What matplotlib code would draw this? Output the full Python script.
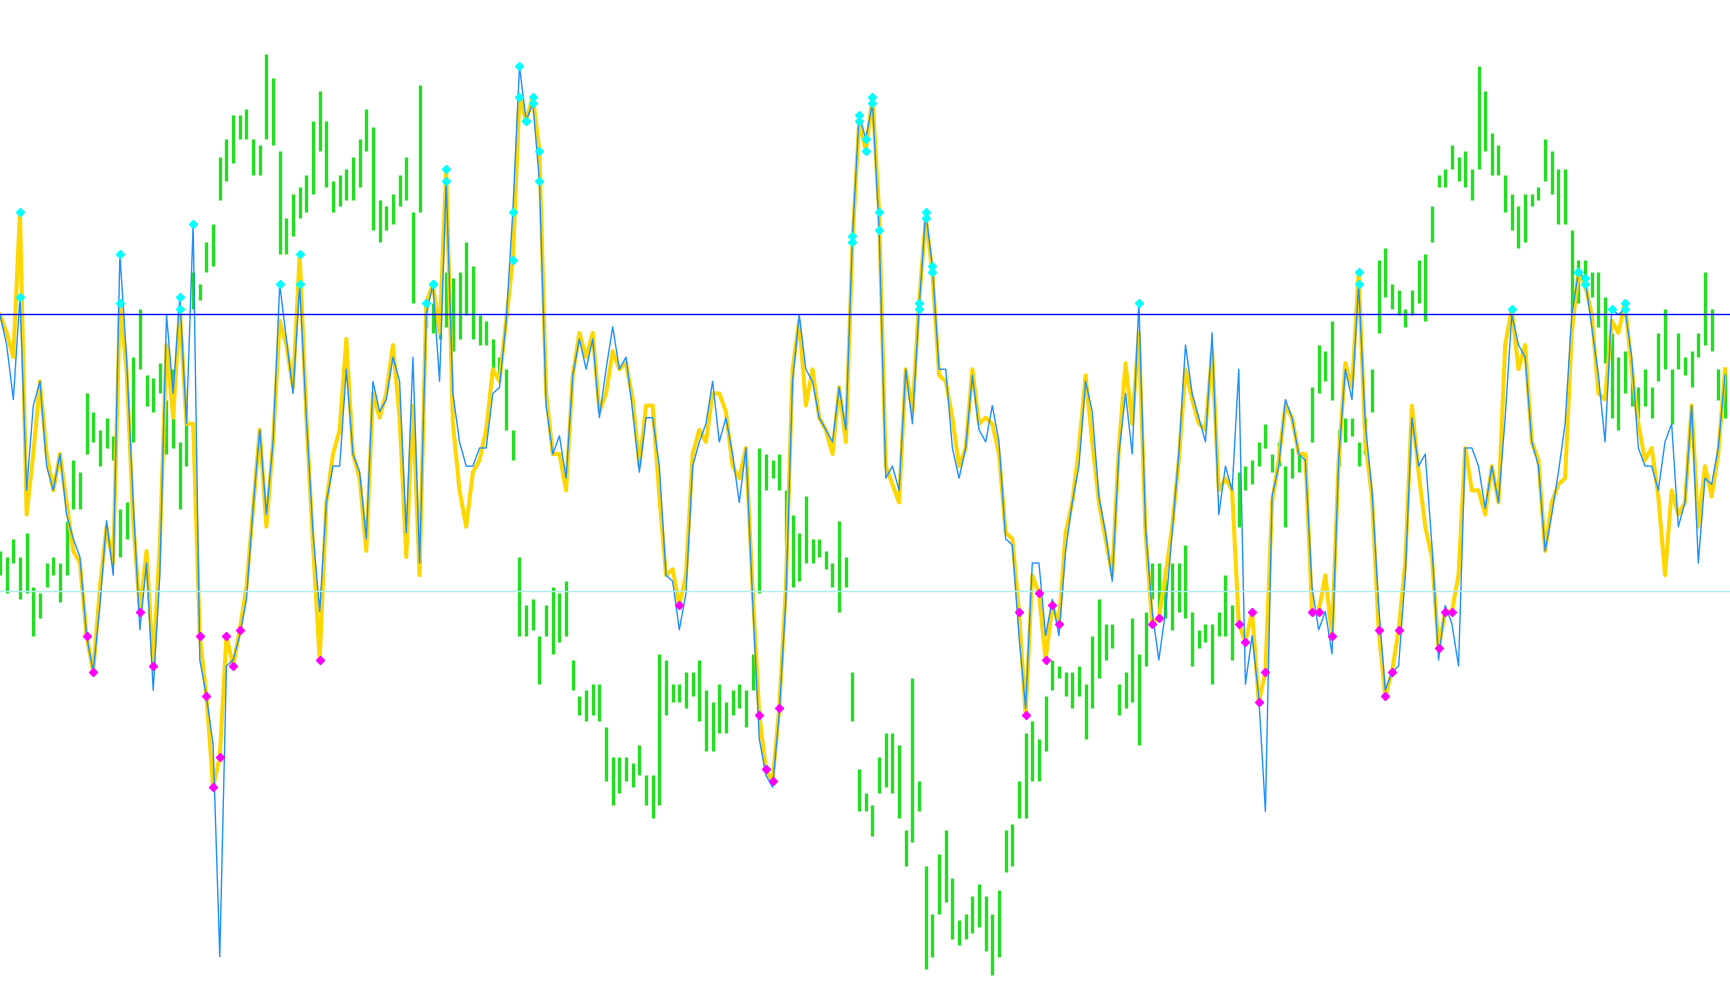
import numpy as np
import matplotlib
matplotlib.use("Agg")
from matplotlib import pyplot as plt

# oscillator, slow (thick gold) line
yellow = [
    1130, 1100, 1060, 1300, 800, 900, 1020, 900, 840, 900,
    820, 740, 720, 600, 540, 680, 780, 720, 1150, 1040,
    790, 640, 740, 550, 750, 1080, 960, 1140, 950, 950,
    600, 500, 350, 400, 600, 550, 610, 680, 810, 940,
    780, 920, 1120, 1080, 1010, 1230, 960, 750, 560, 820,
    900, 940, 1090, 900, 860, 740, 1000, 960, 1000, 1080,
    960, 730, 980, 700, 1150, 1180, 1100, 1370, 950, 840,
    780, 870, 890, 940, 1040, 1020, 1120, 1220, 1490, 1450,
    1490, 1400, 1000, 900, 900, 840, 1030, 1100, 1060, 1100,
    970, 1000, 1070, 1040, 1050, 990, 880, 980, 980, 830,
    700, 710, 650, 700, 900, 940, 920, 1000, 1000, 970,
    880, 860, 910, 680, 470, 380, 360, 480, 680, 1040,
    1120, 980, 1040, 960, 940, 900, 1010, 920, 1250, 1450,
    1400, 1490, 1300, 880, 850, 820, 1040, 970, 1150, 1290,
    1200, 1030, 1020, 960, 880, 910, 1040, 950, 960, 950,
    900, 770, 760, 640, 470, 700, 670, 560, 650, 620,
    770, 820, 910, 1030, 920, 820, 760, 700, 910, 1050,
    950, 1100, 770, 620, 630, 700, 780, 890, 1040, 990,
    950, 940, 1070, 840, 860, 840, 620, 590, 640, 490,
    540, 820, 890, 980, 960, 900, 900, 640, 640, 700,
    600, 890, 1050, 1010, 1200, 920, 830, 610, 500, 540,
    610, 720, 980, 870, 780, 730, 580, 640, 640, 700,
    910, 840, 840, 800, 880, 820, 1080, 1140, 1040, 1080,
    920, 890, 740, 820, 850, 860, 1100, 1200, 1180, 1130,
    1000, 990, 1120, 1100, 1150, 1040, 950, 890, 910, 830,
    700, 840, 800, 820, 980, 780, 880, 830, 900, 1040,
]

# oscillator, fast (thin blue) line
blue = [
    1130, 1080, 990, 1160, 840, 980, 1020, 880, 840, 900,
    800, 760, 730, 600, 540, 650, 790, 700, 1230, 1060,
    820, 610, 720, 510, 700, 1130, 1000, 1160, 950, 1280,
    560, 500, 420, 70, 550, 560, 600, 660, 810, 940,
    800, 920, 1180, 1090, 1000, 1180, 960, 770, 640, 820,
    880, 880, 1040, 900, 870, 760, 1020, 970, 990, 1060,
    1020, 770, 1060, 720, 1130, 1180, 1020, 1350, 1000, 920,
    880, 880, 910, 910, 1000, 1010, 1120, 1300, 1540, 1450,
    1480, 1350, 980, 900, 930, 860, 1030, 1090, 1040, 1090,
    960, 1040, 1110, 1040, 1060, 970, 870, 960, 960, 880,
    700, 690, 610, 670, 880, 920, 950, 1020, 920, 960,
    900, 820, 910, 660, 430, 370, 350, 470, 660, 1020,
    1130, 1040, 1020, 960, 940, 920, 1010, 940, 1260, 1460,
    1420, 1480, 1270, 860, 880, 840, 1040, 950, 1140, 1300,
    1210, 1040, 1040, 910, 860, 910, 1030, 940, 920, 980,
    920, 760, 750, 600, 480, 720, 720, 600, 660, 600,
    740, 820, 880, 1020, 970, 830, 770, 690, 900, 1000,
    900, 1150, 780, 640, 560, 640, 770, 900, 1080, 1000,
    960, 920, 1100, 800, 880, 840, 1040, 520, 600, 500,
    310, 830, 880, 990, 960, 900, 890, 680, 610, 640,
    570, 890, 1040, 990, 1180, 950, 840, 650, 510, 540,
    550, 700, 960, 880, 900, 750, 560, 650, 620, 550,
    910, 910, 880, 810, 880, 820, 960, 1130, 1080, 1060,
    920, 880, 740, 800, 870, 950, 1130, 1200, 1190, 1110,
    1030, 920, 1140, 1130, 1140, 1060, 910, 880, 880, 840,
    920, 950, 780, 820, 980, 720, 860, 850, 910, 1030,
]

# price bars (high / low)
green_high = [
    740, 730, 760, 730, 770, 680, 670, 720, 730, 720,
    790, 890, 870, 1000, 970, 940, 960, 930, 810, 820,
    1060, 1140, 1030, 1025, 1050, 990, 1040, 920, 960, 1200,
    1180, 1250, 1280, 1390, 1420, 1460, 1460, 1470, 1420, 1410,
    1560, 1520, 1400, 1290, 1330, 1340, 1360, 1450, 1500, 1450,
    1350, 1360, 1370, 1390, 1420, 1470, 1440, 1320, 1310, 1330,
    1360, 1390, 1300, 1510, 1150, 1150, 1140, 1200, 1190, 1200,
    1250, 1210, 1130, 1120, 1090, 1060, 1040, 940, 730, 650,
    660, 600, 650, 680, 670, 690, 560, 500, 510, 520,
    520, 450, 400, 400, 400, 390, 420, 370, 370, 570,
    560, 520, 520, 540, 540, 560, 510, 490, 520, 490,
    510, 520, 510, 570, 910, 900, 890, 900, 840, 800,
    770, 830, 760, 760, 740, 720, 790, 730, 540, 380,
    340, 320, 400, 440, 440, 420, 280, 530, 360, 220,
    140, 240, 280, 200, 130, 140, 170, 190, 170, 140,
    180, 280, 290, 360, 440, 460, 430, 500, 560, 550,
    540, 540, 550, 520, 600, 660, 620, 620, 520, 540,
    630, 570, 640, 720, 720, 710, 720, 720, 750, 640,
    610, 620, 620, 640, 700, 650, 870, 880, 890, 920,
    950, 900, 920, 880, 910, 900, 900, 1010, 1080, 1070,
    1120, 940, 960, 960, 920, 960, 1040, 1220, 1240, 1180,
    1170, 1140, 1170, 1220, 1230, 1310, 1360, 1370, 1410, 1390,
    1400, 1370, 1540, 1500, 1430, 1410, 1360, 1330, 1310, 1330,
    1330, 1340, 1420, 1400, 1370, 1370, 1270, 1220, 1220, 1200,
    1200, 1160, 1100, 1060, 1070, 1040, 1010, 1040, 1010, 1100,
    1140, 1040, 1100, 1060, 1070, 1100, 1200, 1140, 1040, 1040,
]

green_low = [
    700, 670, 720, 660, 670, 600, 630, 680, 700, 655,
    700, 810, 810, 900, 920, 880, 910, 890, 730, 760,
    920, 1040, 980, 970, 1000, 900, 910, 810, 880, 1140,
    1155, 1200, 1210, 1320, 1350, 1380, 1420, 1420, 1360, 1360,
    1420, 1410, 1230, 1230, 1260, 1290, 1300, 1330, 1400, 1340,
    1300, 1310, 1320, 1320, 1340, 1400, 1270, 1250, 1270, 1280,
    1310, 1320, 1150, 1300, 1110, 1100, 1090, 1110, 1070, 1090,
    1130, 1090, 1080, 1080, 1040, 1030, 940, 890, 600, 600,
    610, 520, 600, 570, 590, 600, 510, 470, 460, 470,
    460, 360, 320, 340, 360, 350, 370, 320, 300, 320,
    470, 490, 490, 480, 500, 460, 410, 410, 440, 440,
    470, 480, 450, 510, 670, 840, 860, 840, 750, 680,
    690, 720, 720, 730, 710, 680, 640, 680, 460, 310,
    310, 270, 340, 350, 340, 300, 220, 260, 310, 50,
    70, 140, 160, 100, 90, 100, 110, 120, 80, 40,
    70, 210, 220, 300, 300, 360, 360, 410, 510, 530,
    500, 480, 500, 430, 480, 530, 560, 580, 470, 480,
    490, 420, 550, 660, 640, 630, 610, 640, 630, 550,
    580, 590, 520, 600, 600, 560, 780, 840, 850, 880,
    910, 870, 880, 780, 860, 870, 870, 920, 1000, 1020,
    990, 880, 920, 930, 880, 900, 970, 1100, 1160, 1140,
    1130, 1110, 1130, 1150, 1120, 1250, 1340, 1340, 1370, 1350,
    1340, 1320, 1370, 1400, 1360, 1360, 1300, 1270, 1240, 1250,
    1310, 1320, 1350, 1330, 1280, 1280, 1130, 1150, 1170, 1160,
    1110, 1050, 960, 940, 1000, 980, 960, 980, 960, 1020,
    1040, 950, 1040, 1030, 1010, 1060, 1080, 1070, 990, 960,
]

upper_level = 1131
lower_level = 674

bars = np.arange(len(yellow))
yellow = np.array(yellow)
blue = np.array(blue)

fig = plt.figure(figsize=(17.3, 10.05), dpi=100)
ax = fig.add_axes([0, 0, 1, 1])

ax.vlines(bars, green_low, green_high, color='#22dd22', linewidth=2.4, zorder=1)
ax.plot(bars, yellow, color='#ffd700', linewidth=2.9, zorder=2)
ax.plot(bars, blue, color='#1e90ff', linewidth=1.0, zorder=3)
ax.axhline(upper_level, color='#0000ff', linewidth=1.0, zorder=4)
ax.axhline(lower_level, color='#aeeeee', linewidth=1.0, zorder=4)

# signal dots where the oscillator leaves the band
hi = yellow > upper_level
lo = yellow < lower_level
ax.plot(bars[hi], yellow[hi], 'D', color='#00ffff', markersize=4.5, zorder=5)
ax.plot(bars[lo], yellow[lo], 'D', color='#ff00ff', markersize=4.5, zorder=5)
bhi = blue > upper_level
ax.plot(bars[bhi], blue[bhi], 'D', color='#00ffff', markersize=4.5, zorder=5)

ax.set_xlim(0, 259.76)
ax.set_ylim(-9.5, 1649.5)
ax.axis('off')

fig.savefig('out.png', dpi=100)
